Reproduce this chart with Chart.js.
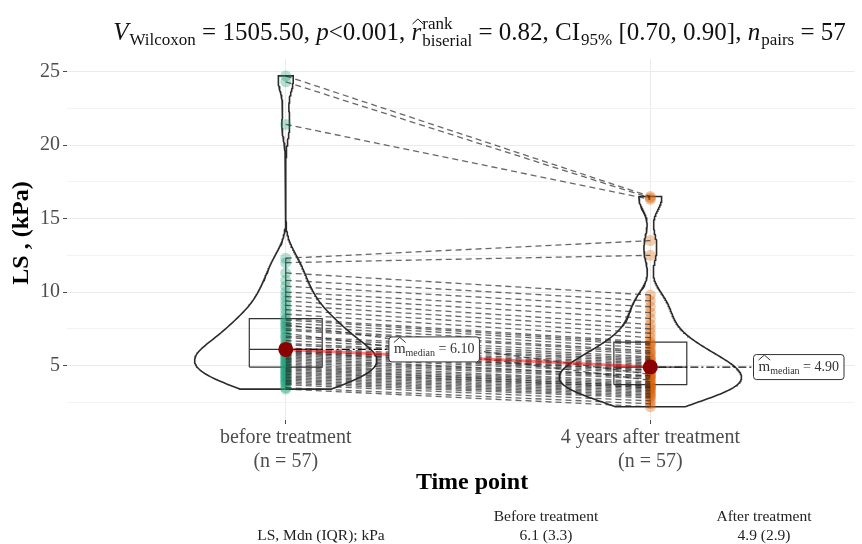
<!DOCTYPE html>
<html>
<head>
<meta charset="utf-8">
<script src="https://cdn.jsdelivr.net/npm/chart.js@4.4.1/dist/chart.umd.min.js"></script>
<style>
  html, body { margin: 0; padding: 0; background: #fff; }
  #wrap { width: 862px; height: 544px; }
</style>
</head>
<body>
<div id="wrap"><canvas id="chart" width="862" height="544"></canvas></div>
<script>
// groups on the x axis
const groups = ['before treatment', '4 years after treatment'];
const groupN = [57, 57];

// liver stiffness (kPa), one entry per patient, same order in both arrays
const beforeLS = [24.7, 24.3, 21.4, 12.3, 12.0, 11.3, 10.8, 10.4, 10.0, 9.7,
  9.4, 9.1, 8.8, 8.5, 8.2, 8.1, 7.9, 7.8, 7.7, 7.5,
  7.4, 7.2, 7.0, 6.9, 6.7, 6.5, 6.4, 6.2, 6.1, 6.0,
  6.0, 5.9, 5.9, 5.8, 5.7, 5.6, 5.5, 5.4, 5.3, 5.2,
  5.1, 5.0, 4.9, 4.8, 4.7, 4.6, 4.5, 4.4, 4.3, 4.2,
  4.1, 4.0, 3.9, 3.8, 3.7, 3.5, 3.4];
const afterLS = [16.5, 16.4, 16.3, 13.5, 12.5, 9.8, 9.4, 9.0, 8.6, 8.2,
  7.8, 7.5, 7.2, 6.9, 6.6, 6.5, 6.4, 4.4, 6.2, 6.0,
  5.9, 4.0, 5.8, 5.6, 5.5, 5.4, 5.3, 5.2, 5.1, 5.0,
  4.9, 4.8, 4.7, 4.7, 4.6, 4.5, 4.3, 4.3, 4.2, 4.1,
  3.9, 3.8, 3.7, 3.6, 3.6, 3.5, 3.5, 3.4, 3.3, 3.2,
  3.1, 3.0, 2.9, 2.8, 2.6, 2.4, 2.2];

const yMajorTicks = [5, 10, 15, 20, 25];
const yMinorTicks = [2.5, 7.5, 12.5, 17.5, 22.5];

const xTitle = 'Time point';
const yTitle = 'LS , (kPa)';
const tableHead = ['Before treatment', 'After treatment'];
const tableRowLabel = 'LS, Mdn (IQR); kPa';

// subtitle pieces: it = italic, sub = subscript, sup2/sub2 = stacked scripts
const subtitleRuns = [
  { t: 'V', it: true }, { t: 'Wilcoxon', sub: true }, { t: ' = 1505.50, ' },
  { t: 'p', it: true }, { t: '<0.001, ' },
  { t: 'r', it: true, hat: true, sup2: 'rank', sub2: 'biserial' }, { t: ' = 0.82, CI' },
  { t: '95%', sub: true }, { t: ' [0.70, 0.90], ' },
  { t: 'n', it: true }, { t: 'pairs', sub: true }, { t: ' = 57' }
];

const SERIF = '"Liberation Serif", "DejaVu Serif", serif';
const colBefore = 'rgba(27,158,119,0.32)';
const colAfter = 'rgba(217,95,2,0.32)';

function quantile(sorted, p) {
  const h = (sorted.length - 1) * p, lo = Math.floor(h);
  if (lo + 1 >= sorted.length) return sorted[lo];
  return sorted[lo] + (h - lo) * (sorted[lo + 1] - sorted[lo]);
}

function summary(values) {
  const s = [...values].sort((a, b) => a - b);
  const q1 = quantile(s, 0.25), med = quantile(s, 0.5), q3 = quantile(s, 0.75);
  const iqr = q3 - q1;
  const hiW = Math.max(...s.filter(v => v <= q3 + 1.5 * iqr));
  const loW = Math.min(...s.filter(v => v >= q1 - 1.5 * iqr));
  return { s, q1, med, q3, iqr, hiW, loW };
}

// trimmed gaussian kde, bw.nrd0 style, scaled to a max half width of 0.25
function violinPath(values, pos) {
  const s = [...values].sort((a, b) => a - b);
  const n = s.length;
  const mean = s.reduce((a, b) => a + b, 0) / n;
  const sd = Math.sqrt(s.reduce((a, v) => a + (v - mean) ** 2, 0) / (n - 1));
  const iqr = quantile(s, 0.75) - quantile(s, 0.25);
  const bw = 0.9 * Math.min(sd, iqr / 1.34) * Math.pow(n, -0.2);
  const lo = s[0], hi = s[n - 1], steps = 300;
  const ys = [], ds = [];
  for (let i = 0; i <= steps; i++) {
    const y = lo + (hi - lo) * i / steps;
    let d = 0;
    for (const v of s) d += Math.exp(-0.5 * ((y - v) / bw) ** 2);
    ys.push(y); ds.push(d);
  }
  const dMax = Math.max(...ds);
  const right = ys.map((y, i) => ({ x: pos + 0.25 * ds[i] / dMax, y }));
  const left = ys.map((y, i) => ({ x: pos - 0.25 * ds[i] / dMax, y })).reverse();
  return [...right, ...left, right[0]];
}

const stats = [summary(beforeLS), summary(afterLS)];

function pathSet(data, extra) {
  return Object.assign({ data, showLine: true, pointRadius: 0, borderColor: '#333', borderWidth: 1.2, fill: false }, extra);
}

const datasets = [];
[beforeLS, afterLS].forEach((vals, i) => {
  datasets.push(pathSet(violinPath(vals, i + 1), { order: 6, borderWidth: 1.6, borderColor: '#2b2b2b' }));
});
stats.forEach((st, i) => {
  const p = i + 1, w = 0.1;
  datasets.push(pathSet([{ x: p - w, y: st.q1 }, { x: p + w, y: st.q1 }, { x: p + w, y: st.q3 }, { x: p - w, y: st.q3 }, { x: p - w, y: st.q1 }], { order: 5 }));
  datasets.push(pathSet([{ x: p - w, y: st.med }, { x: p + w, y: st.med }], { order: 5 }));
  datasets.push(pathSet([{ x: p, y: st.q3 }, { x: p, y: st.hiW }], { order: 5 }));
  datasets.push(pathSet([{ x: p, y: st.q1 }, { x: p, y: st.loW }], { order: 5 }));
});
// points under the paired lines
datasets.push({ data: beforeLS.map(v => ({ x: 1, y: v })), order: 4, pointRadius: 5.5, pointBackgroundColor: colBefore, pointBorderWidth: 0 });
datasets.push({ data: afterLS.map(v => ({ x: 2, y: v })), order: 4, pointRadius: 5.5, pointBackgroundColor: colAfter, pointBorderWidth: 0 });
beforeLS.forEach((b, i) => {
  datasets.push(pathSet([{ x: 1, y: b }, { x: 2, y: afterLS[i] }], {
    order: 3, borderColor: 'rgba(40,40,40,0.7)', borderWidth: 1.3, borderDash: [6, 4]
  }));
});
datasets.push(pathSet([{ x: 1, y: stats[0].med }, { x: 2, y: stats[1].med }], { order: 2, borderColor: 'rgba(255,0,0,0.5)', borderWidth: 3 }));
datasets.push({ data: stats.map((st, i) => ({ x: i + 1, y: st.med })), order: 1, pointRadius: 7.5, pointBackgroundColor: '#8b0000', pointBorderWidth: 0 });

function drawHat(ctx, x, w, y, h) {
  ctx.beginPath();
  ctx.moveTo(x, y);
  ctx.lineTo(x + w / 2, y - (h || 4));
  ctx.lineTo(x + w, y);
  ctx.stroke();
}

const decor = {
  id: 'decor',
  beforeDraw(chart) {
    const ctx = chart.ctx;
    ctx.save();
    ctx.fillStyle = '#fff';
    ctx.fillRect(0, 0, chart.width, chart.height);
    ctx.restore();
  },
  afterDatasetsDraw(chart) {
    const ctx = chart.ctx, xs = chart.scales.x, ys = chart.scales.y;
    ctx.save();
    stats.forEach((st, i) => {
      const px = xs.getPixelForValue(i + 1), py = ys.getPixelForValue(st.med);
      const bx = xs.getPixelForValue(i + 1.283);
      const valTxt = ' = ' + st.med.toFixed(2);
      ctx.font = '15px ' + SERIF;
      const mW = ctx.measureText('m').width;
      ctx.font = '10px ' + SERIF;
      const subW = ctx.measureText('median').width;
      ctx.font = '14px ' + SERIF;
      const valW = ctx.measureText(valTxt).width;
      const bw = 5 + mW + subW + valW + 5, bh = 25;
      // dash-dot leader from the median point
      ctx.strokeStyle = '#111';
      ctx.lineWidth = 1.3;
      ctx.setLineDash([8, 3, 2, 3]);
      ctx.beginPath();
      ctx.moveTo(px + 8, py);
      ctx.lineTo(bx, py);
      ctx.stroke();
      ctx.setLineDash([]);
      // label box
      ctx.fillStyle = '#fff';
      ctx.strokeStyle = '#333';
      ctx.lineWidth = 1;
      ctx.beginPath();
      ctx.roundRect(bx, py - bh / 2, bw, bh, 3);
      ctx.fill();
      ctx.stroke();
      ctx.fillStyle = '#333';
      ctx.textBaseline = 'alphabetic';
      ctx.textAlign = 'left';
      let tx = bx + 5;
      const base = py + 4;
      ctx.font = '15px ' + SERIF;
      ctx.fillText('m', tx, base);
      drawHat(ctx, tx, mW, base - 11, 5);
      tx += mW;
      ctx.font = '10px ' + SERIF;
      ctx.fillText('median', tx, base + 3);
      tx += subW;
      ctx.font = '14px ' + SERIF;
      ctx.fillText(valTxt, tx, base);
    });
    ctx.restore();
  },
  afterDraw(chart) {
    const ctx = chart.ctx;
    ctx.save();
    // statistical subtitle
    const mainSize = 25, subSize = 17;
    const fontFor = (r, size) => (r.it ? 'italic ' : '') + size + 'px ' + SERIF;
    let total = 0;
    subtitleRuns.forEach(r => {
      ctx.font = fontFor(r, r.sub ? subSize : mainSize);
      r.w = ctx.measureText(r.t).width;
      if (r.sup2) {
        ctx.font = subSize + 'px ' + SERIF;
        r.w2 = Math.max(ctx.measureText(r.sup2).width, ctx.measureText(r.sub2).width);
      } else r.w2 = 0;
      total += r.w + r.w2 + (r.sub ? 1 : 0);
    });
    let x = 479 - total / 2;
    const base = 40;
    ctx.fillStyle = '#111';
    ctx.strokeStyle = '#111';
    ctx.lineWidth = 1;
    ctx.textAlign = 'left';
    ctx.textBaseline = 'alphabetic';
    subtitleRuns.forEach(r => {
      ctx.font = fontFor(r, r.sub ? subSize : mainSize);
      ctx.fillText(r.t, x + (r.sub ? 1 : 0), r.sub ? base + 5 : base);
      if (r.hat) drawHat(ctx, x + 1, r.w + 1, base - 16, 5);
      x += r.w + (r.sub ? 1 : 0);
      if (r.sup2) {
        ctx.font = subSize + 'px ' + SERIF;
        ctx.fillText(r.sup2, x + 1, base - 11);
        ctx.fillText(r.sub2, x + 1, base + 6);
        x += r.w2 + 1;
      }
    });
    // axis titles
    ctx.fillStyle = '#000';
    ctx.textAlign = 'center';
    ctx.textBaseline = 'middle';
    ctx.font = 'bold 24px ' + SERIF;
    ctx.fillText(xTitle, 472, 483);
    ctx.save();
    ctx.translate(22, 233);
    ctx.rotate(-Math.PI / 2);
    ctx.fillText(yTitle, 0, 0);
    ctx.restore();
    // summary table
    ctx.fillStyle = '#222';
    ctx.font = '15.5px ' + SERIF;
    const cols = [546, 764];
    tableHead.forEach((h, i) => ctx.fillText(h, cols[i], 517));
    ctx.fillText(tableRowLabel, 321, 536);
    stats.forEach((st, i) => ctx.fillText(st.med.toFixed(1) + ' (' + st.iqr.toFixed(1) + ')', cols[i], 536));
    ctx.restore();
  }
};

new Chart(document.getElementById('chart'), {
  type: 'scatter',
  data: { datasets },
  options: {
    responsive: false,
    animation: false,
    events: [],
    layout: { padding: { top: 59, right: 0, bottom: 0, left: 0 } },
    plugins: { legend: { display: false }, tooltip: { enabled: false } },
    scales: {
      x: {
        type: 'linear', min: 0.4, max: 2.56,
        afterBuildTicks: s => { s.ticks = groups.map((g, i) => ({ value: i + 1 })); },
        afterFit: s => { s.height = 124; },
        border: { display: false },
        grid: { color: '#ebebeb', tickLength: 4, tickColor: '#4d4d4d' },
        ticks: {
          autoSkip: false, maxRotation: 0, padding: 2, color: '#4d4d4d',
          font: { family: SERIF, size: 20, lineHeight: 1.2 },
          callback: v => [groups[Math.round(v) - 1], '(n = ' + groupN[Math.round(v) - 1] + ')']
        },
        title: { display: false }
      },
      y: {
        type: 'linear', min: 1.3, max: 25.85,
        afterBuildTicks: s => {
          s.ticks = [...yMinorTicks, ...yMajorTicks].sort((a, b) => a - b).map(v => ({ value: v }));
        },
        afterFit: s => { s.width = 67; },
        border: { display: false },
        grid: {
          color: c => (c.tick && yMajorTicks.includes(c.tick.value)) ? '#ebebeb' : '#f3f3f3',
          tickLength: 4,
          tickColor: c => (c.tick && yMajorTicks.includes(c.tick.value)) ? '#4d4d4d' : 'rgba(0,0,0,0)'
        },
        ticks: {
          autoSkip: false, padding: 3, color: '#4d4d4d',
          font: { family: SERIF, size: 20 },
          callback: v => yMajorTicks.includes(v) ? String(v) : ''
        },
        title: { display: false }
      }
    }
  },
  plugins: [decor]
});
</script>
</body>
</html>
